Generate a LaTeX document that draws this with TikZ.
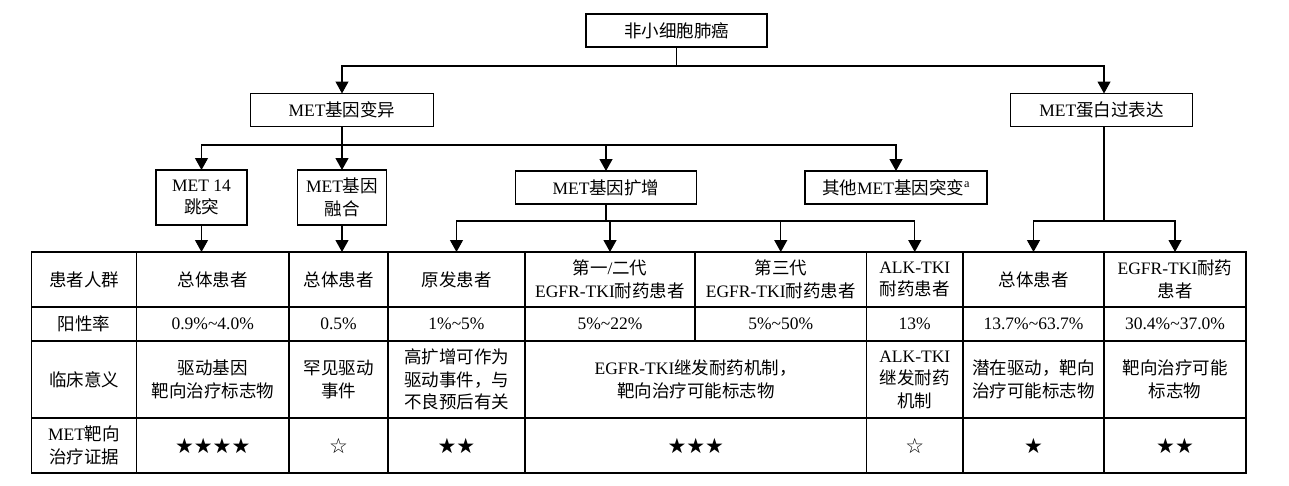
\documentclass[tikz,border=0pt]{standalone}
\usepackage{fontspec}
\setmainfont{Liberation Serif}
\newfontfamily\zh{Noto Sans CJK SC}
\newfontfamily\starfont{DejaVu Sans}
\usetikzlibrary{positioning,arrows.meta}

\begin{document}
\begin{tikzpicture}[x=1pt, y=-1pt, font=\fontsize{17.5}{22.5}\selectfont, align=center,
  box/.style={draw, line width=1.2pt, inner sep=0pt, outer sep=0pt, minimum height=33pt},
  cell/.style={draw, line width=1.2pt, inner sep=0pt, outer sep=0pt},
  rowA/.style={cell, minimum height=55pt},
  rowB/.style={cell, minimum height=34pt},
  rowC/.style={cell, minimum height=77pt},
  rowD/.style={cell, minimum height=55pt},
  stars/.style={font=\starfont\fontsize{21}{24}\selectfont},
  link/.style={line width=1.2pt},
  arr/.style={line width=1.2pt, -{Triangle[length=12pt,width=13pt]}}]

  \useasboundingbox (0,0) rectangle (1289,485);

  % tree
  \node[box, minimum width=181pt] (nsclc) at (676.5,30.5) {\zh 非小细胞肺癌};
  \node[box, minimum width=183pt] (alt) at (342,110) {MET{\zh 基因变异}};
  \node[box, minimum width=182pt] (over) at (1101.5,110) {MET{\zh 蛋白过表达}};

  \node[box, minimum width=91pt, minimum height=55pt] (ex14) at (201.5,197.5) {MET 14\\{\zh 跳突}};
  \node[box, minimum width=89pt, minimum height=55pt] (fusion) at (342,197.5) {MET{\zh 基因}\\{\zh 融合}};
  \node[box, minimum width=181pt] (amp) at (606,187.5) {MET{\zh 基因扩增}};
  \node[box, minimum width=182pt] (other) at (896,187.5) {{\zh 其他}MET{\zh 基因突变}\textsuperscript{a}};

  % table, row 1
  \node[rowA, minimum width=105pt, anchor=north west] (p0) at (31.5,252) {\zh 患者人群};
  \node[rowA, minimum width=152.5pt, right=0pt of p0] (p1) {\zh 总体患者};
  \node[rowA, minimum width=99pt, right=0pt of p1] (p2) {\zh 总体患者};
  \node[rowA, minimum width=137pt, right=0pt of p2] (p3) {\zh 原发患者};
  \node[rowA, minimum width=170pt, right=0pt of p3] (p4) {{\zh 第一}/{\zh 二代}\\EGFR-TKI{\zh 耐药患者}};
  \node[rowA, minimum width=171.5pt, right=0pt of p4] (p5) {{\zh 第三代}\\EGFR-TKI{\zh 耐药患者}};
  \node[rowA, minimum width=96.5pt, right=0pt of p5] (p6) {ALK-TKI\\{\zh 耐药患者}};
  \node[rowA, minimum width=141pt, right=0pt of p6] (p7) {\zh 总体患者};
  \node[rowA, minimum width=142pt, right=0pt of p7] (p8) {EGFR-TKI{\zh 耐药}\\{\zh 患者}};

  % row 2
  \node[rowB, minimum width=105pt, below=0pt of p0] (r0) {\zh 阳性率};
  \node[rowB, minimum width=152.5pt, right=0pt of r0] (r1) {0.9\%\textasciitilde4.0\%};
  \node[rowB, minimum width=99pt, right=0pt of r1] (r2) {0.5\%};
  \node[rowB, minimum width=137pt, right=0pt of r2] (r3) {1\%\textasciitilde5\%};
  \node[rowB, minimum width=170pt, right=0pt of r3] (r4) {5\%\textasciitilde22\%};
  \node[rowB, minimum width=171.5pt, right=0pt of r4] (r5) {5\%\textasciitilde50\%};
  \node[rowB, minimum width=96.5pt, right=0pt of r5] (r6) {13\%};
  \node[rowB, minimum width=141pt, right=0pt of r6] (r7) {13.7\%\textasciitilde63.7\%};
  \node[rowB, minimum width=142pt, right=0pt of r7] (r8) {30.4\%\textasciitilde37.0\%};

  % row 3
  \node[rowC, minimum width=105pt, below=0pt of r0] (s0) {\zh 临床意义};
  \node[rowC, minimum width=152.5pt, right=0pt of s0] (s1) {{\zh 驱动基因}\\{\zh 靶向治疗标志物}};
  \node[rowC, minimum width=99pt, right=0pt of s1] (s2) {{\zh 罕见驱动}\\{\zh 事件}};
  \node[rowC, minimum width=137pt, right=0pt of s2] (s3) {{\zh 高扩增可作为}\\{\zh 驱动事件，与}\\{\zh 不良预后有关}};
  \node[rowC, minimum width=341.5pt, right=0pt of s3] (s4) {EGFR-TKI{\zh 继发耐药机制，}\\{\zh 靶向治疗可能标志物}};
  \node[rowC, minimum width=96.5pt, right=0pt of s4] (s6) {ALK-TKI\\{\zh 继发耐药}\\{\zh 机制}};
  \node[rowC, minimum width=141pt, right=0pt of s6] (s7) {{\zh 潜在驱动，靶向}\\{\zh 治疗可能标志物}};
  \node[rowC, minimum width=142pt, right=0pt of s7] (s8) {{\zh 靶向治疗可能}\\{\zh 标志物}};

  % row 4
  \node[rowD, minimum width=105pt, below=0pt of s0] (t0) {MET{\zh 靶向}\\{\zh 治疗证据}};
  \node[rowD, stars, minimum width=152.5pt, right=0pt of t0] (t1) {★★★★};
  \node[rowD, stars, minimum width=99pt, right=0pt of t1] (t2) {☆};
  \node[rowD, stars, minimum width=137pt, right=0pt of t2] (t3) {★★};
  \node[rowD, stars, minimum width=341.5pt, right=0pt of t3] (t4) {★★★};
  \node[rowD, stars, minimum width=96.5pt, right=0pt of t4] (t6) {☆};
  \node[rowD, stars, minimum width=141pt, right=0pt of t6] (t7) {★};
  \node[rowD, stars, minimum width=142pt, right=0pt of t7] (t8) {★★};

  % connectors
  \coordinate (j0) at (676.5,66);
  \coordinate (j1) at (342,145);
  \coordinate (j2) at (606,221);
  \coordinate (j3) at (1104,221);

  \draw[link] (nsclc) -- (j0);
  \draw[arr] (j0) -| (alt);
  \draw[arr] (j0) -| ([xshift=2.5pt]over.north);

  \draw[link] (alt) -- (j1);
  \draw[arr] (j1) -| (ex14);
  \draw[arr] (j1) -- (fusion);
  \draw[arr] (j1) -| (amp);
  \draw[arr] (j1) -| (other);

  \draw[arr] (ex14) -- (ex14 |- p1.north);
  \draw[arr] (fusion) -- (fusion |- p2.north);

  \draw[link] (amp) -- (j2);
  \draw[arr] (j2) -| (p3);
  \draw[arr] (j2) -| (p4);
  \draw[arr] (j2) -| (p5);
  \draw[arr] (j2) -| (p6);

  \draw[link] ([xshift=2.5pt]over.south) -- (j3);
  \draw[arr] (j3) -| (p7);
  \draw[arr] (j3) -| (p8);
\end{tikzpicture}
\end{document}
